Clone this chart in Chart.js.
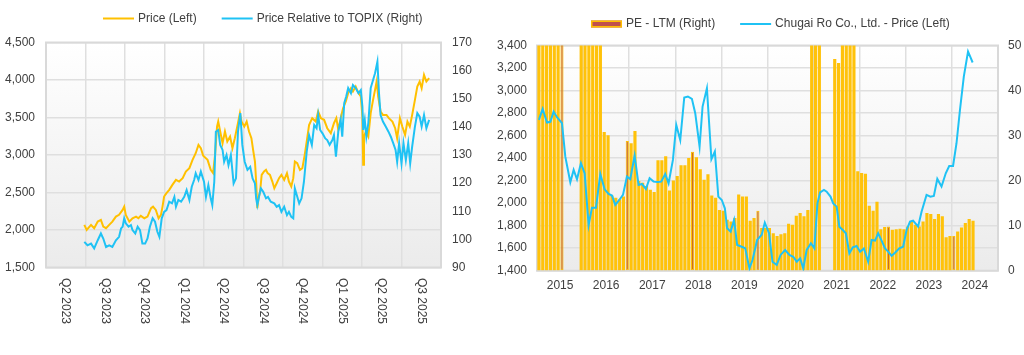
<!DOCTYPE html>
<html>
<head>
<meta charset="utf-8">
<script src="https://cdn.jsdelivr.net/npm/chart.js@4.4.1/dist/chart.umd.min.js"></script>
<style>
html,body{margin:0;padding:0;background:#ffffff;width:1024px;height:355px;overflow:hidden}
#c1{position:absolute;left:0;top:0;width:480px;height:355px}
#c2{position:absolute;left:480px;top:0;width:544px;height:355px}
</style>
</head>
<body>
<canvas id="c1" width="480" height="355"></canvas>
<canvas id="c2" width="544" height="355"></canvas>
<script>
// ---------------- LEFT CHART DATA ----------------
// quarter bands on the x axis (0 = start of Q2 2023)
const quarterLabels = ['Q2 2023','Q3 2023','Q4 2023','Q1 2024','Q2 2024','Q3 2024','Q4 2024','Q1 2025','Q2 2025','Q3 2025'];
const priceLabel = 'Price (Left)';
const relLabel = 'Price Relative to TOPIX (Right)';
// time in quarters since 1 Apr 2023
const priceT = [0.97,1.03,1.14,1.22,1.31,1.39,1.45,1.52,1.60,1.68,1.77,1.85,1.94,1.98,2.02,2.11,2.19,2.28,2.34,2.40,2.49,2.57,2.66,2.71,2.78,2.85,2.91,2.95,2.99,3.05,3.12,3.20,3.29,3.37,3.46,3.54,3.63,3.71,3.79,3.86,3.92,3.98,4.09,4.17,4.23,4.28,4.33,4.36,4.41,4.47,4.53,4.59,4.66,4.72,4.78,4.85,4.91,4.95,5.02,5.08,5.14,5.20,5.25,5.29,5.32,5.35,5.38,5.42,5.46,5.52,5.57,5.61,5.67,5.73,5.78,5.84,5.90,5.96,6.03,6.10,6.15,6.21,6.26,6.30,6.36,6.43,6.49,6.55,6.60,6.66,6.74,6.83,6.89,6.96,7.04,7.12,7.21,7.29,7.35,7.40,7.46,7.52,7.59,7.65,7.72,7.77,7.84,7.91,7.97,8.01,8.03,8.05,8.10,8.16,8.22,8.28,8.33,8.37,8.41,8.47,8.53,8.62,8.68,8.77,8.84,8.89,8.96,9.02,9.09,9.15,9.21,9.27,9.34,9.40,9.46,9.51,9.57,9.63,9.70];
const priceV = [2068,2001,2068,2024,2112,2135,2046,2024,2068,2112,2179,2202,2268,2312,2202,2112,2157,2179,2157,2188,2157,2179,2291,2312,2268,2157,2202,2312,2446,2491,2535,2602,2668,2646,2691,2780,2824,2935,3024,3135,3091,2990,2935,2802,2758,3002,3379,3446,3313,3158,3313,3179,3246,3091,3224,3402,3558,3446,3379,3446,3313,3224,3046,2913,2646,2291,2424,2513,2735,2780,2802,2758,2735,2646,2557,2624,2691,2735,2668,2758,2646,2580,2691,2913,2891,2802,2824,3002,3179,3400,3491,3446,3580,3491,3469,3357,3291,3424,3491,3336,3491,3624,3713,3825,3891,3846,3913,3825,3780,3513,2869,3246,3313,3246,3558,3735,3869,3980,3780,3580,3535,3535,3491,3446,3357,3224,3491,3379,3268,3446,3379,3535,3735,3913,3980,3891,4069,3980,4024];
const relT = [0.97,1.05,1.14,1.22,1.31,1.39,1.45,1.52,1.60,1.68,1.77,1.85,1.90,1.94,1.98,2.02,2.09,2.15,2.19,2.26,2.32,2.38,2.44,2.51,2.57,2.63,2.70,2.76,2.82,2.87,2.93,2.99,3.05,3.12,3.19,3.25,3.29,3.35,3.42,3.50,3.56,3.63,3.69,3.75,3.79,3.86,3.92,4.00,4.05,4.11,4.17,4.21,4.26,4.30,4.36,4.41,4.47,4.51,4.57,4.62,4.68,4.75,4.81,4.86,4.92,4.97,5.03,5.10,5.17,5.23,5.29,5.32,5.35,5.40,5.44,5.50,5.57,5.62,5.69,5.78,5.84,5.90,5.96,6.03,6.10,6.15,6.21,6.26,6.30,6.35,6.41,6.47,6.53,6.60,6.66,6.73,6.79,6.85,6.89,6.94,7.00,7.07,7.12,7.18,7.25,7.29,7.34,7.40,7.46,7.50,7.55,7.60,7.65,7.72,7.77,7.84,7.91,7.97,8.01,8.03,8.07,8.11,8.16,8.22,8.28,8.33,8.39,8.43,8.47,8.53,8.60,8.67,8.73,8.79,8.85,8.89,8.94,9.00,9.05,9.11,9.17,9.22,9.27,9.34,9.40,9.46,9.51,9.57,9.63,9.70];
const relV = [99.1,97.9,98.5,96.8,99.7,102.1,100.3,97.3,97.9,97.3,99.7,100.9,103.9,104.5,107.5,105.7,104.5,105.1,103.3,102.1,104.5,103.3,98.5,98.5,100.3,104.5,107.5,106.3,102.7,100.9,107.5,109.8,110.4,113.4,112.8,115.1,111.6,114.0,113.4,115.1,117.5,114.0,118.7,121.1,123.5,121.1,124.1,120.5,115.1,119.3,114.6,112.2,120.5,138.3,138.9,133.6,131.8,127.6,130.0,126.4,130.0,119.9,121.7,138.3,144.9,133.6,127.6,124.7,125.8,121.7,119.9,114.6,112.2,115.7,118.1,116.9,114.6,115.1,113.4,112.8,111.6,112.2,109.8,111.6,108.6,109.8,108.0,107.5,118.1,115.7,112.8,114.6,120.5,131.2,137.0,133.6,140.7,139.5,144.2,138.9,137.7,135.9,135.3,133.6,135.3,137.1,129.4,138.3,142.5,136.5,148.4,150.8,153.8,152.0,154.9,153.8,152.0,153.1,147.2,138.9,142.5,136.5,141.3,153.8,156.7,159.1,163.2,152.0,144.2,141.9,140.1,138.3,136.5,134.2,131.8,127.6,134.2,127.0,134.2,128.2,134.2,127.0,133.0,140.1,144.9,143.6,140.1,144.2,139.5,142.5];

// ---------------- RIGHT CHART DATA ----------------
const yearLabels = ['2015','2016','2017','2018','2019','2020','2021','2022','2023','2024'];
const peLabel = 'PE - LTM (Right)';
const chugaiLabel = 'Chugai Ro Co., Ltd. - Price (Left)';
// monthly PE (LTM) from Jan 2015; null = not available; values above 50 run off the axis
const peLTM = [60,60,60,60,60,60,60,null,null,null,null,60,60,60,60,60,60,
  30.8,30.1,16.7,16.2,15.8,16.5,28.8,28.3,31.0,19.9,19.5,18.8,18.0,17.5,24.5,24.5,25.4,17.8,20.0,21.0,23.4,23.4,25.0,26.4,25.2,22.5,20.2,21.4,16.7,16.2,13.5,13.3,11.3,10.9,11.7,16.9,16.5,16.5,11.1,11.7,13.3,9.5,9.5,9.5,8.3,7.7,8.1,8.3,10.4,10.2,12.2,12.8,12.1,13.5,
  60,60,60,null,null,null,47.0,46.1,60,60,60,60,
  22.1,21.7,21.5,14.4,13.3,15.3,9.2,9.7,9.8,9.1,9.2,9.3,9.2,9.8,10.8,10.2,9.8,10.9,12.8,12.6,11.5,12.6,12.1,7.4,7.7,7.7,8.7,9.6,10.6,11.5,11.1];
// share price, time in months since Jan 2015
const chugaiT = [0,0.97,2.10,2.97,3.83,4.70,6.00,6.87,8.17,9.04,9.91,10.94,11.90,12.94,13.81,14.85,15.98,17.10,18.14,19.01,19.88,20.92,21.88,22.91,23.78,24.91,25.95,26.82,27.86,28.81,29.85,30.89,31.84,32.88,33.75,34.88,35.75,36.79,37.83,38.78,39.82,40.69,41.82,42.60,43.73,44.90,45.80,46.70,47.60,48.40,49.00,49.90,50.80,51.60,52.80,53.70,54.80,55.60,56.80,58.00,58.80,59.90,60.80,61.90,62.90,64.10,65.20,66.20,67.10,68.00,68.80,69.70,70.80,71.70,72.50,73.20,74.20,74.90,75.90,76.60,77.50,78.20,79.10,79.90,80.80,81.70,82.70,83.60,84.60,85.70,86.60,87.50,88.30,89.20,90.10,90.90,91.80,92.70,93.80,94.80,95.70,96.60,97.40,98.70,99.60,100.90,101.90,102.80,103.70,104.80,105.90,106.80,107.80,108.70,109.60,110.60,111.70,112.90];
const chugaiV = [2739,2837,2716,2722,2813,2763,2710,2413,2185,2295,2212,2354,2265,1806,1960,1960,2259,2123,2081,2067,1984,2028,2073,2236,2212,2422,2161,2170,2126,2221,2191,2188,2191,2259,2176,2384,2695,2561,2938,2947,2926,2799,2502,2858,3021,2390,2458,2058,2028,1954,1777,1747,1851,1628,1613,1599,1421,1495,1673,1720,1827,1733,1480,1451,1540,1584,1540,1524,1480,1510,1421,1584,1644,1599,1998,2096,2117,2102,2058,1998,1969,1791,1761,1732,1554,1607,1619,1569,1598,1480,1673,1667,1732,1667,1598,1569,1533,1560,1598,1613,1761,1836,1844,1791,1924,2073,2058,2064,2215,2147,2265,2330,2330,2532,2828,3124,3347,3249];

// ---------------- STYLE ----------------
const TEXT = '#404040';
const FONT_FAMILY = "'Liberation Sans', Arial, sans-serif";
const FONT = '12px ' + FONT_FAMILY;
const YELLOW = '#ffc000';
const BLUE = '#1fc2f4';
const GRID = '#dfdfdf';
Chart.defaults.font.family = FONT_FAMILY;
Chart.defaults.font.size = 12;
Chart.defaults.color = TEXT;

const fmt = v => Number(v).toLocaleString('en-US');

const plotBg = {
  id: 'plotBg',
  beforeDraw(chart) {
    const {ctx, chartArea: a} = chart;
    const g = ctx.createLinearGradient(0, a.top, 0, a.bottom);
    g.addColorStop(0, '#ffffff');
    g.addColorStop(1, '#ebebeb');
    ctx.save();
    ctx.fillStyle = g;
    ctx.fillRect(a.left, a.top, a.right - a.left, a.bottom - a.top);
    ctx.restore();
  },
  beforeDatasetsDraw(chart) {
    const {ctx, chartArea: a} = chart;
    ctx.save();
    ctx.strokeStyle = '#d9d9d9';
    ctx.lineWidth = 2;
    ctx.strokeRect(a.left, a.top, a.right - a.left, a.bottom - a.top);
    ctx.restore();
  }
};

function makeLegend(startX, cy, order) {
  return {
    id: 'customLegend',
    afterDraw(chart) {
      const ctx = chart.ctx;
      let x = startX;
      ctx.save();
      ctx.font = FONT;
      ctx.textBaseline = 'middle';
      ctx.textAlign = 'left';
      order.forEach(i => {
        const ds = chart.data.datasets[i];
        if ((ds.type || chart.config.type) === 'bar') {
          ctx.fillStyle = '#c0504d';
          ctx.fillRect(x, cy - 3.5, 31, 7);
          ctx.strokeStyle = YELLOW;
          ctx.lineWidth = 1.5;
          ctx.strokeRect(x + 0.75, cy - 2.75, 29.5, 5.5);
        } else {
          ctx.strokeStyle = ds.borderColor;
          ctx.lineWidth = 2;
          ctx.beginPath();
          ctx.moveTo(x, cy);
          ctx.lineTo(x + 31, cy);
          ctx.stroke();
        }
        x += 35;
        ctx.fillStyle = TEXT;
        ctx.fillText(ds.label, x, cy);
        x += ctx.measureText(ds.label).width + 25;
      });
      ctx.restore();
    }
  };
}

const quarterTickLabels = {
  id: 'quarterTickLabels',
  afterDraw(chart) {
    const {ctx, chartArea: a, scales: {x}} = chart;
    ctx.save();
    ctx.font = FONT;
    ctx.fillStyle = TEXT;
    ctx.textAlign = 'left';
    ctx.textBaseline = 'middle';
    quarterLabels.forEach((lab, i) => {
      const px = x.getPixelForValue(i + 0.5);
      ctx.save();
      ctx.translate(px, a.bottom + 10.5);
      ctx.rotate(Math.PI / 2);
      ctx.fillText(lab, 0, 0);
      ctx.restore();
    });
    ctx.restore();
  }
};

// ---------------- LEFT CHART ----------------
new Chart(document.getElementById('c1'), {
  type: 'line',
  data: {
    datasets: [
      {label: priceLabel, data: priceT.map((t, i) => ({x: t, y: priceV[i]})), borderColor: YELLOW, backgroundColor: YELLOW,
       borderWidth: 2, pointRadius: 0, tension: 0, yAxisID: 'y', order: 1},
      {label: relLabel, data: relT.map((t, i) => ({x: t, y: relV[i]})), borderColor: BLUE, backgroundColor: BLUE,
       borderWidth: 2, pointRadius: 0, tension: 0, yAxisID: 'y1', order: 0}
    ]
  },
  options: {
    responsive: false, animation: false, events: [],
    layout: {padding: {top: 42.5, left: 0, right: 0, bottom: 0}},
    plugins: {legend: {display: false}, tooltip: {enabled: false}},
    scales: {
      x: {type: 'linear', min: 0, max: quarterLabels.length,
          ticks: {stepSize: 1, display: false},
          grid: {color: GRID, lineWidth: 1.5, drawTicks: false},
          border: {display: false},
          afterFit(s) { s.height = 355 - 267.5; }},
      y: {position: 'left', min: 1500, max: 4500,
          ticks: {stepSize: 500, padding: 11, callback: fmt, color: TEXT},
          grid: {color: GRID, lineWidth: 1.5, drawTicks: false},
          border: {display: false},
          afterFit(s) { s.width = 46; }},
      y1: {position: 'right', min: 90, max: 170,
          ticks: {stepSize: 10, padding: 11, callback: fmt, color: TEXT},
          grid: {drawOnChartArea: false, drawTicks: false},
          border: {display: false},
          afterFit(s) { s.width = 480 - 441; }}
    }
  },
  plugins: [plotBg, quarterTickLabels, makeLegend(103, 18.5, [0, 1])]
});

// ---------------- RIGHT CHART ----------------
const isDark = i => i % 17 === 6;
new Chart(document.getElementById('c2'), {
  type: 'bar',
  data: {
    datasets: [
      {type: 'bar', label: peLabel, data: peLTM.map((v, i) => ({x: i + 0.5, y: v})),
       backgroundColor: ctx => isDark(ctx.dataIndex) ? '#cc6a22' : '#ffc20a',
       borderColor: YELLOW,
       borderWidth: ctx => isDark(ctx.dataIndex) ? 1 : 0,
       borderSkipped: false,
       barPercentage: 0.82, categoryPercentage: 1,
       yAxisID: 'y1', order: 1, clip: 0},
      {type: 'line', label: chugaiLabel, data: chugaiT.map((t, i) => ({x: t + 0.5, y: chugaiV[i]})),
       borderColor: BLUE, backgroundColor: BLUE, borderWidth: 2, pointRadius: 0, tension: 0,
       yAxisID: 'y', order: 0}
    ]
  },
  options: {
    responsive: false, animation: false, events: [],
    layout: {padding: {top: 45.5, left: 0, right: 0, bottom: 0}},
    plugins: {legend: {display: false}, tooltip: {enabled: false}},
    scales: {
      x: {type: 'linear', min: 0, max: yearLabels.length * 12, offset: false,
          ticks: {stepSize: 6, autoSkip: false, maxRotation: 0, minRotation: 0, padding: 8, color: TEXT,
                  callback: v => (v % 12 === 6) ? yearLabels[(v - 6) / 12] : ''},
          grid: {offset: false, drawTicks: false, lineWidth: 1.5,
                 color: c => (c.tick && c.tick.value % 12 === 0) ? GRID : 'rgba(0,0,0,0)'},
          border: {display: false},
          afterFit(s) { s.height = 355 - 270.7; }},
      y: {position: 'left', min: 1400, max: 3400,
          ticks: {stepSize: 200, padding: 10, callback: fmt, color: TEXT},
          grid: {color: GRID, lineWidth: 1.5, drawTicks: false},
          border: {display: false},
          afterFit(s) { s.width = 57; }},
      y1: {position: 'right', min: 0, max: 50,
          ticks: {stepSize: 10, padding: 10, callback: fmt, color: TEXT},
          grid: {drawOnChartArea: false, drawTicks: false},
          border: {display: false},
          afterFit(s) { s.width = 544 - 518; }}
    }
  },
  plugins: [plotBg, makeLegend(111, 24, [0, 1])]
});
</script>
</body>
</html>
